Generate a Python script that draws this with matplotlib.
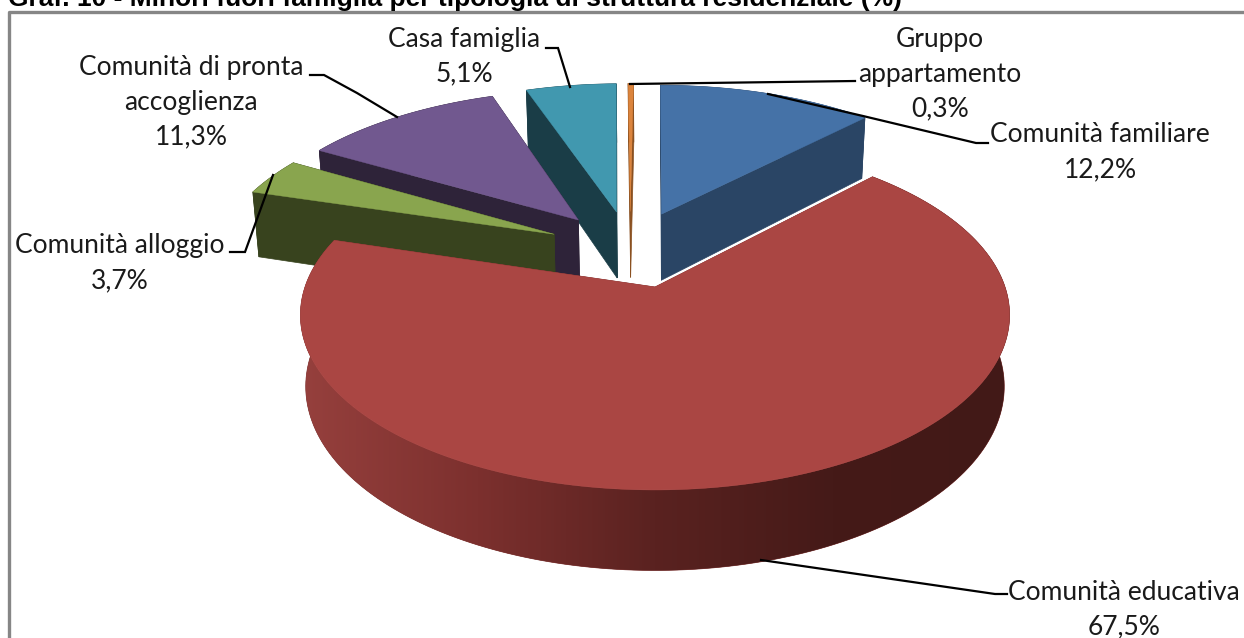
import numpy as np
import matplotlib
matplotlib.use('Agg')
import matplotlib.pyplot as plt
from matplotlib.colors import LinearSegmentedColormap
from matplotlib.patches import Polygon

categories = ['Comunità familiare', 'Comunità educativa', 'Comunità alloggio',
              'Comunità di pronta\naccoglienza', 'Casa famiglia', 'Gruppo\nappartamento']
values = [12.2, 67.5, 3.7, 11.3, 5.1, 0.3]

topColors = ['#4572A7', '#AA4643', '#89A54E', '#71588F', '#4198AF', '#DB843D']
sideColors = ['#2A4565', '#7A2F2D', '#38431E', '#2E2339', '#1A3D47', '#8A5020']

labelPos = [(1100, 135), (1124, 592), (120, 246), (191, 68), (464, 39), (940, 40)]
leaders = [[(768, 94), (863, 116), (976, 143), (988, 143)],
           [(761, 560), (995, 594), (1007, 594)],
           [(273, 175), (245, 252), (230, 252)],
           [(310, 75), (324, 75), (357, 93), (397, 117)],
           [(546, 48), (558, 48), (570, 87)],
           [(855, 81), (630, 84)]]

title = 'Graf. 10 - Minori fuori famiglia per tipologia di struttura residenziale (%)'

## the pie lies in a plane (u,v) and is seen in perspective
x0, y0 = 655, 287
scaleU, scaleV, persp = 350, 170.5, 0.16
thick, thickPersp, shrink = 70, 0.13, 0.985
explode = 0.25
nudgeU, nudgeV = -0.01, -0.015

def project( u , v ):
    d = 1 + persp*v
    return x0 + scaleU*u/d , y0 - scaleV*v/d

def projectBottom( u , v ):
    x , y = project( u , v )
    return x0 + (x-x0)*shrink , y + thick/(1 + thickPersp*v)

def direction( a ):
    return np.sin(a) , np.cos(a)

total = sum(values)
edges = np.radians( np.cumsum( [0] + values ) / total * 360 )
mids = (edges[:-1] + edges[1:]) / 2

## the red slice is the one sitting at the origin of the plane
refU , refV = direction( mids[1] )

fig = plt.figure( figsize=( 12.44 , 6.38 ) , dpi=100 )
ax = fig.add_axes( [0, 0, 1, 1] )

redWall = LinearSegmentedColormap.from_list( 'redWall' ,
    ['#96403D', '#7C302E', '#5A2220', '#451A18', '#421917'] )

drawOrder = [0, 5, 4, 3, 2, 1]
z = 1

for i in drawOrder:
    du , dv = direction( mids[i] )
    offU = explode*(du - refU)
    offV = explode*(dv - refV)
    if i != 1:
        offU += nudgeU
        offV += nudgeV
    angles = np.linspace( edges[i] , edges[i+1] , 200 )
    rimU = offU + np.sin(angles)
    rimV = offV + np.cos(angles)

    topX , topY = project( rimU , rimV )
    botX , botY = projectBottom( rimU , rimV )
    apexX , apexY = project( offU , offV )
    apexBX , apexBY = projectBottom( offU , offV )

    ## the two radial walls
    for k in [0, -1]:
        ax.fill( [apexX, topX[k], botX[k], apexBX] , [apexY, topY[k], botY[k], apexBY] ,
                 color=sideColors[i] , lw=0.5 , zorder=z )
        z += 1

    ## the outer wall, the big slice gets a left to right shading
    wall = Polygon( np.c_[ np.r_[topX, botX[::-1]] , np.r_[topY, botY[::-1]] ] ,
                    closed=True , color=sideColors[i] , lw=0.5 , zorder=z )
    ax.add_patch( wall )
    z += 1
    if i == 1:
        shade = np.linspace( 0 , 1 , 256 ).reshape( 1 , -1 )
        img = ax.imshow( shade , cmap=redWall , extent=( 300, 1010, 638, 0 ) ,
                         aspect='auto' , zorder=z )
        img.set_clip_path( wall )
        z += 1

    ## top of the slice
    ax.fill( np.r_[apexX, topX] , np.r_[apexY, topY] , color=topColors[i] , lw=0.3 , zorder=z )
    z += 1

ax.set_xlim( 0 , 1244 )
ax.set_ylim( 638 , 0 )
ax.axis('off')

for path in leaders:
    xs , ys = zip( *path )
    ax.plot( xs , ys , color='black' , lw=1.6 , zorder=1000 , solid_joinstyle='miter' )

pitch = 34.5
for cat , val , pos in zip( categories , values , labelPos ):
    lines = cat.split('\n') + [ f'{val:.1f}%'.replace('.', ',') ]
    for n , line in enumerate( lines ):
        ax.text( pos[0] , pos[1] + n*pitch , line , ha='center' , va='center' ,
                 fontsize=19 , family='Lato' , color='#1a1a1a' , zorder=1001 )

## chart frame
ax.plot( [9, 9, 1244] , [640, 11.5, 11.5] , color='#868686' , lw=2.4 , zorder=999 , clip_on=False )

ax.text( 8 , 6 , title , ha='left' , va='baseline' , fontsize=19 , fontweight='bold' ,
         family='Liberation Sans' , color='black' , zorder=1001 , clip_on=False )

plt.savefig('out.png' , dpi=100)
